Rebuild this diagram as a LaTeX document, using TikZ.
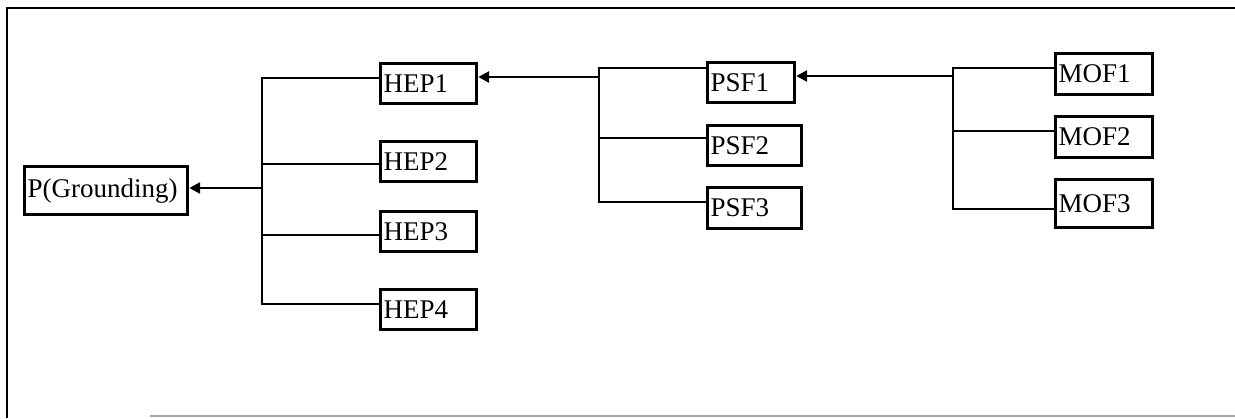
\documentclass[tikz,border=0pt]{standalone}
\usepackage{fontspec}
\setmainfont{Liberation Serif}
\usetikzlibrary{arrows.meta}

\begin{document}
\begin{tikzpicture}[x=1pt,y=-1pt,line width=2.8pt,>={Triangle[length=11pt,width=11pt]},
  box/.style={draw,line width=3.2pt,anchor=north west,align=left,inner xsep=3pt,inner ysep=0pt,
    font=\fontsize{27}{30}\selectfont}]
\useasboundingbox (0,0) rectangle (1235,418);
\draw (1235,8) -- (7,8) -- (7,418);
\draw[gray!70] (150,416) -- (1235,416);
% boxes
\node[box,text width=157pt,minimum height=48pt] (pg) at (23,165) {P(Grounding)};
\node[box,text width=90pt,minimum height=40pt] (hep1) at (379,62) {HEP1};
\node[box,text width=90pt,minimum height=40pt] (hep2) at (379,140) {HEP2};
\node[box,text width=90pt,minimum height=40pt] (hep3) at (379,210) {HEP3};
\node[box,text width=90pt,minimum height=40pt] (hep4) at (379,288) {HEP4};
\node[box,text width=81pt,minimum height=40pt] (psf1) at (706,61) {PSF1};
\node[box,text width=88pt,minimum height=40pt] (psf2) at (706,124) {PSF2};
\node[box,text width=88pt,minimum height=41pt] (psf3) at (706,186) {PSF3};
\node[box,text width=91pt,minimum height=41pt] (mof1) at (1054,52) {MOF1};
\node[box,text width=91pt,minimum height=41pt] (mof2) at (1054,115) {MOF2};
\node[box,text width=91pt,minimum height=48pt] (mof3) at (1054,178) {MOF3};
% trunks
\coordinate (h1) at (262,78);
\coordinate (h2) at (262,164);
\coordinate (h3) at (262,235);
\coordinate (h4) at (262,304);
\coordinate (hm) at (262,188);
\coordinate (p1) at (599,68);
\coordinate (p2) at (599,138);
\coordinate (p3) at (599,202);
\coordinate (pm) at (599,77);
\coordinate (m1) at (953,68);
\coordinate (m2) at (953,131);
\coordinate (m3) at (953,209);
\coordinate (mm) at (953,76);
\draw (h1 -| hep1.west) -- (h1) -- (h4) -- (h4 -| hep4.west);
\draw (h2) -- (h2 -| hep2.west);
\draw (h3) -- (h3 -| hep3.west);
\draw[->] (hm) -- (hm -| pg.east);
\draw (p1 -| psf1.west) -- (p1) -- (p3) -- (p3 -| psf3.west);
\draw (p2) -- (p2 -| psf2.west);
\draw[->] (pm) -- (pm -| hep1.east);
\draw (m1 -| mof1.west) -- (m1) -- (m3) -- (m3 -| mof3.west);
\draw (m2) -- (m2 -| mof2.west);
\draw[->] (mm) -- (mm -| psf1.east);
\end{tikzpicture}
\end{document}
